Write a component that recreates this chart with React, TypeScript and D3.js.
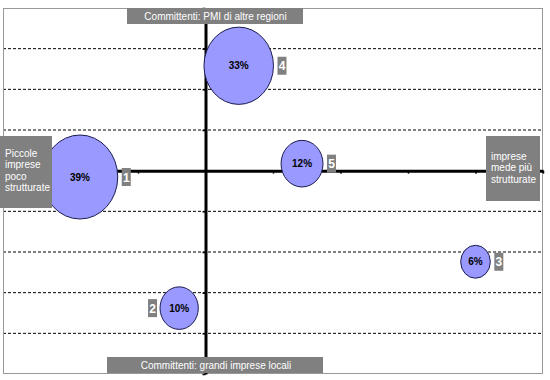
import React, { useEffect, useRef } from "react";
import * as d3 from "d3";

// ---- data ----
const pointIds = ["1", "2", "3", "4", "5"];
const xValues = [-0.93, -0.195, 2.0, 0.246, 0.715];
const yValues = [-0.078, -1.69, -1.12, 1.29, 0.086];
const shares = [39, 10, 6, 33, 12];
const labelOnLeft = [false, true, false, false, false];

const xTicks = [-1.5, -1, -0.5, 0, 0.5, 1, 1.5, 2, 2.5];
const yTicks = [-2.5, -2, -1.5, -1, -0.5, 0, 0.5, 1, 1.5, 2];

const topLabel = "Committenti: PMI di altre regioni";
const bottomLabel = "Committenti: grandi imprese locali";
const leftLabel = ["Piccole", "imprese", "poco", "strutturate"];
const rightLabel = ["imprese", "mede più", "strutturate"];

const W = 550;
const H = 380;
const plot = { left: 3, right: 543, top: 8, bottom: 374 };
const FONT = "'Liberation Sans', Arial, Helvetica, sans-serif";

export default function App() {
  const axRef = useRef<SVGGElement>(null);

  const x = d3.scaleLinear().domain([-1.5, 2.5]).range([plot.left, plot.right]);
  const y = d3.scaleLinear().domain([-2.5, 2]).range([plot.bottom, plot.top]);
  const r = d3.scaleSqrt().domain([0, 39]).range([0, 42]);
  const aspect = 0.9;

  useEffect(() => {
    const g = d3.select(axRef.current);
    g.selectAll("*").remove();
    const xa = g
      .append("g")
      .attr("transform", `translate(0,${y(0)})`)
      .call(d3.axisBottom(x).tickValues(xTicks).tickSize(3).tickFormat(() => "").tickSizeOuter(0));
    xa.select(".domain").attr("stroke", "#000").attr("stroke-width", 3);
    xa.selectAll(".tick line").attr("stroke", "#000").attr("stroke-width", 1.5);
    const ya = g
      .append("g")
      .attr("transform", `translate(${x(0)},0)`)
      .call(d3.axisLeft(y).tickValues(yTicks).tickSize(3).tickFormat(() => "").tickSizeOuter(0));
    ya.select(".domain").attr("stroke", "#000").attr("stroke-width", 3);
    ya.selectAll(".tick line").attr("stroke", "#000").attr("stroke-width", 1.5);
  }, []);

  const gridYs = yTicks.filter((t) => t !== 0 && t !== -2.5 && t !== 2);

  return (
    <svg
      width={W}
      height={H}
      style={{ position: "absolute", left: 0, top: 0, background: "#fff" }}
      fontFamily={FONT}
    >
      <rect x={0} y={0} width={W} height={H} fill="#fff" />
      {/* gridlines */}
      {gridYs.map((t) => (
        <line
          key={t}
          x1={plot.left}
          x2={plot.right}
          y1={y(t)}
          y2={y(t)}
          stroke="#000"
          strokeWidth={1}
          strokeDasharray="3,2"
        />
      ))}
      {/* plot border */}
      <rect
        x={plot.left + 0.5}
        y={plot.top + 0.5}
        width={plot.right - plot.left - 1}
        height={plot.bottom - plot.top - 1}
        fill="none"
        stroke="#999"
        strokeWidth={1}
      />
      <g ref={axRef} />
      {/* bubbles */}
      {pointIds.map((id, i) => {
        const ry = r(shares[i]);
        const rx = ry * aspect;
        const cx = x(xValues[i]);
        const cy = y(yValues[i]);
        const bw = 9;
        const bh = 18;
        const bx = labelOnLeft[i] ? cx - rx - 3 - bw : cx + rx + 4;
        return (
          <g key={id}>
            <ellipse cx={cx} cy={cy} rx={rx} ry={ry} fill="#9999ff" stroke="#1c1c50" strokeWidth={1} />
            <text
              x={cx}
              y={cy + 3.6}
              textAnchor="middle"
              fontSize={10}
              fontWeight="bold"
              fill="#000"
            >
              {shares[i] + "%"}
            </text>
            <rect x={bx} y={cy - bh / 2} width={bw} height={bh} fill="#808080" />
            <text
              x={bx + bw / 2}
              y={cy + 4.5}
              textAnchor="middle"
              fontSize={12}
              fontWeight="bold"
              fill="#fff"
            >
              {id}
            </text>
          </g>
        );
      })}
      {/* quadrant labels */}
      <rect x={127} y={8} width={176} height={16} fill="#808080" />
      <text x={215.5} y={20} textAnchor="middle" fontSize={10} fill="#fff">
        {topLabel}
      </text>
      <rect x={107} y={357} width={216} height={16} fill="#808080" />
      <text x={216} y={369} textAnchor="middle" fontSize={10} fill="#fff">
        {bottomLabel}
      </text>
      <rect x={0} y={136} width={52} height={72} fill="#808080" />
      {leftLabel.map((l, i) => (
        <text key={l} x={5} y={157 + i * 11.4} fontSize={10} fill="#fff">
          {l}
        </text>
      ))}
      <rect x={486} y={136} width={54} height={65} fill="#808080" />
      {rightLabel.map((l, i) => (
        <text key={l} x={491} y={159.5 + i * 11.8} fontSize={10} fill="#fff">
          {l}
        </text>
      ))}
    </svg>
  );
}
